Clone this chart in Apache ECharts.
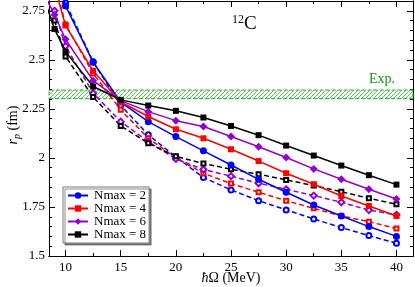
<!DOCTYPE html>
<html><head><meta charset="utf-8">
<script src="https://cdn.jsdelivr.net/npm/echarts@6/dist/echarts.min.js"></script>
<style>html,body{margin:0;padding:0;background:#fff}#c{width:415px;height:287px}</style>
</head><body><div id="c"></div>
<script>
// hbar-Omega (MeV)
const hw = [8, 9, 10, 12.5, 15, 17.5, 20, 22.5, 25, 27.5, 30, 32.5, 35, 37.5, 40];
// solid curves
const n2 = [null, 3.00, 2.775, 2.488, 2.285, 2.185, 2.109, 2.036, 1.964, 1.891, 1.825, 1.760, 1.704, 1.650, 1.600];
const n4 = [null, 2.873, 2.675, 2.444, 2.285, 2.211, 2.146, 2.100, 2.044, 1.984, 1.922, 1.866, 1.806, 1.755, 1.704];
const n6 = [2.84, 2.73, 2.605, 2.394, 2.292, 2.236, 2.190, 2.160, 2.109, 2.057, 2.002, 1.944, 1.891, 1.840, 1.791];
const n8 = [2.82, 2.657, 2.542, 2.364, 2.296, 2.267, 2.240, 2.206, 2.163, 2.116, 2.063, 2.012, 1.961, 1.912, 1.864];
// dashed curves
const n2d = [null, 3.02, 2.79, 2.49, 2.268, 2.118, 2.005, 1.900, 1.837, 1.782, 1.735, 1.689, 1.645, 1.604, 1.565];
const n4d = [null, 2.90, 2.68, 2.43, 2.245, 2.100, 2.000, 1.922, 1.869, 1.825, 1.782, 1.743, 1.704, 1.675, 1.640];
const n6d = [null, 2.75, 2.57, 2.33, 2.185, 2.083, 1.995, 1.941, 1.907, 1.871, 1.840, 1.808, 1.774, 1.734, 1.710];
const n8d = [null, 2.70, 2.517, 2.310, 2.163, 2.075, 2.008, 1.972, 1.942, 1.917, 1.888, 1.859, 1.828, 1.794, 1.764];
const expBand = [2.302, 2.346];
const names = ['Nmax = 2', 'Nmax = 4', 'Nmax = 6', 'Nmax = 8'];
const xMajor = [10, 15, 20, 25, 30, 35, 40];
const xMinor = [12.5, 17.5, 22.5, 27.5, 32.5, 37.5];
const yMajor = [1.5, 1.75, 2, 2.25, 2.5, 2.75];
const yMinor = [1.55, 1.6, 1.65, 1.7, 1.8, 1.85, 1.9, 1.95, 2.05, 2.1, 2.15, 2.2, 2.3, 2.35, 2.4, 2.45, 2.55, 2.6, 2.65, 2.7, 2.8];

const FONT = 'Liberation Serif';
const pc = document.createElement('canvas'); pc.width = 4; pc.height = 4;
const g = pc.getContext('2d');
g.fillStyle = '#fff'; g.fillRect(0, 0, 4, 4);
g.strokeStyle = '#55cc55'; g.lineWidth = 1;
g.beginPath(); g.moveTo(0, 4); g.lineTo(4, 0); g.moveTo(-1, 1); g.lineTo(1, -1); g.moveTo(3, 5); g.lineTo(5, 3); g.stroke();

const zip = a => hw.map((x, i) => [x, a[i]]);
function xAx(pos, vals, len, labels) {
  return { type: 'value', position: pos, min: 8.5, max: 41.5, gridIndex: 0,
    axisLine: { show: true, onZero: false, lineStyle: { color: '#000', width: 1 } },
    axisTick: { show: true, inside: true, length: len, customValues: vals, lineStyle: { color: '#000' } },
    axisLabel: labels ? { show: true, customValues: vals, fontFamily: FONT, fontSize: 13, color: '#000', margin: 5 } : { show: false },
    splitLine: { show: false } };
}
function yAx(pos, vals, len, labels) {
  return { type: 'value', position: pos, min: 1.5, max: 2.8, gridIndex: 0,
    axisLine: { show: true, onZero: false, lineStyle: { color: '#000', width: 1 } },
    axisTick: { show: true, inside: true, length: len, customValues: vals, lineStyle: { color: '#000' } },
    axisLabel: labels ? { show: true, customValues: vals, fontFamily: FONT, fontSize: 13, color: '#000', margin: 4 } : { show: false },
    splitLine: { show: false } };
}
const cols = ['#0000ff', '#ff0000', '#9400d3', '#000000'];
const syms = ['circle', 'rect', 'diamond', 'rect'];
const symE = ['emptyCircle', 'emptyRect', 'emptyDiamond', 'emptyRect'];
const sizes = [7, 6, 8, 6];
const solids = [n2, n4, n6, n8];
const dashes = [n2d, n4d, n6d, n8d];
const series = [{
  type: 'line', name: 'band', data: [], silent: true, z: 1,
  markArea: { silent: true, itemStyle: { color: { image: pc, repeat: 'repeat' }, borderColor: '#22aa22', borderWidth: 1, borderType: 'dashed' },
    data: [[{ yAxis: expBand[0] }, { yAxis: expBand[1] }]] }
}];
dashes.forEach((d, i) => series.push({
  type: 'line', name: 'd' + i, data: zip(d), symbol: symE[i], symbolSize: sizes[i] - 2, clip: true, z: 3,
  lineStyle: { color: cols[i], width: 1.5, type: [5, 3] }, itemStyle: { color: cols[i], borderWidth: 1.5 }
}));
solids.forEach((d, i) => series.push({
  type: 'line', name: names[i], data: zip(d), symbol: syms[i], symbolSize: sizes[i], clip: true, z: 4,
  lineStyle: { color: cols[i], width: 1.5 }, itemStyle: { color: cols[i] }
}));

const chart = echarts.init(document.getElementById('c'));
chart.setOption({
  animation: false,
  backgroundColor: '#fff',
  grid: { left: 49, top: 1, width: 364, height: 255, containLabel: false },
  xAxis: [xAx('bottom', xMajor, 6, true), xAx('bottom', xMinor, 3, false), xAx('top', xMajor, 6, false), xAx('top', xMinor, 3, false)],
  yAxis: [yAx('left', yMajor, 6, true), yAx('left', yMinor, 3, false), yAx('right', yMajor, 6, false), yAx('right', yMinor, 3, false)],
  legend: { data: names, orient: 'vertical', left: 63, top: 187, itemWidth: 20, itemHeight: 8, itemGap: 0,
    padding: [2, 3, 2, 4], backgroundColor: '#fff', borderColor: '#777', borderWidth: 1,
    shadowColor: 'rgba(0,0,0,0.45)', shadowOffsetX: 2, shadowOffsetY: 2, shadowBlur: 0,
    textStyle: { fontFamily: FONT, fontSize: 13, color: '#000', lineHeight: 13, padding: [0, 0, 0, 1] }, selectedMode: false },
  graphic: [
    { type: 'text', x: 232, y: 14, style: { text: '{s|12}{c|C}', rich: { s: { fontFamily: FONT, fontSize: 12, verticalAlign: 'top', lineHeight: 20 }, c: { fontFamily: FONT, fontSize: 19, lineHeight: 20, verticalAlign: 'bottom' } }, fill: '#000' } },
    { type: 'text', x: 395, y: 79, style: { text: 'Exp.', fontFamily: FONT, fontSize: 14, fill: '#119911', align: 'right', verticalAlign: 'middle' } },
    { type: 'text', x: 231, y: 278, style: { text: '{i|ħ}Ω (MeV)', fontFamily: FONT, fontSize: 14, fill: '#000', align: 'center', verticalAlign: 'middle', rich: { i: { fontFamily: FONT, fontSize: 14, fontStyle: 'italic' } } } },
    { type: 'text', x: 13, y: 125, rotation: Math.PI / 2, style: { text: '{r|r}{p|p} (fm)', fontFamily: FONT, fontSize: 14, fill: '#000', align: 'center', verticalAlign: 'middle',
      rich: { r: { fontFamily: FONT, fontSize: 14, fontStyle: 'italic', lineHeight: 18, verticalAlign: 'middle' }, p: { fontFamily: FONT, fontSize: 10, fontStyle: 'italic', lineHeight: 18, verticalAlign: 'bottom' } } } }
  ],
  series
});
</script></body></html>
